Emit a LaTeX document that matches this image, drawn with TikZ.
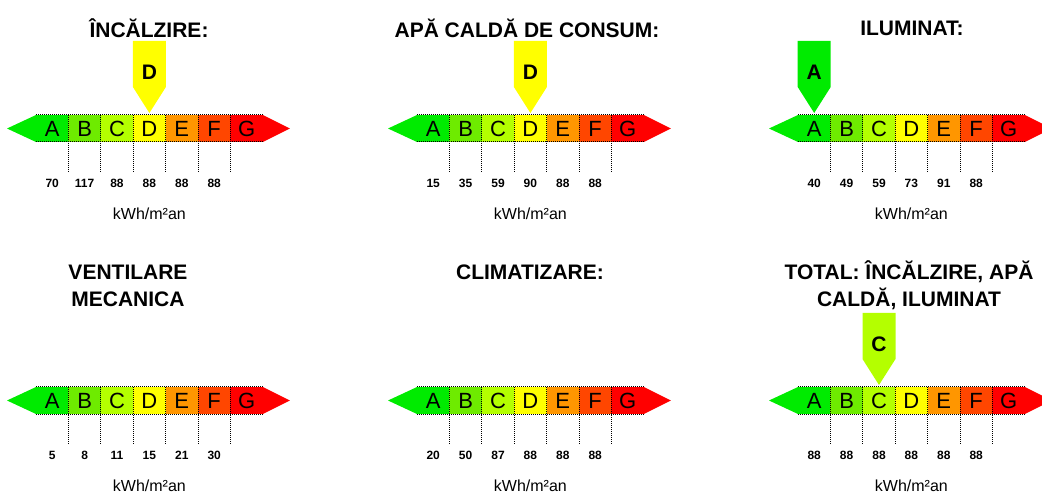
\documentclass[tikz,border=0pt]{standalone}
\usepackage{fontspec}
\setmainfont{Liberation Sans}
\usepackage{tikz}
\usetikzlibrary{positioning}
\definecolor{clsA}{RGB}{0,235,0}
\definecolor{clsB}{RGB}{110,235,0}
\definecolor{clsC}{RGB}{180,255,0}
\definecolor{clsD}{RGB}{255,255,0}
\definecolor{clsE}{RGB}{255,150,0}
\definecolor{clsF}{RGB}{255,70,0}
\definecolor{clsG}{RGB}{255,0,0}
\tikzset{
Seg/.style={
	fill=#1,
	minimum width=32.4pt,
	minimum height=27pt,
	inner sep=0pt, outer sep=0pt,
	font=\fontsize{22}{22}\selectfont
},
Dots/.style={
	draw=black,
	line width=1pt,
	dash pattern=on 1pt off 1pt
},
Title/.style={
	align=center,
	font=\bfseries\fontsize{21}{27}\selectfont
},
Value/.style={
	font=\bfseries\fontsize{12}{12}\selectfont
},
Unit/.style={
	font=\fontsize{16}{16}\selectfont
},
Mark/.style={
	font=\bfseries\fontsize{21}{21}\selectfont
}
}
% one scale: #1 name, #2 west end of A, #3 values under A..F
\newcommand{\EnergyBar}[3]{
	\node[Seg=clsA, anchor=west] (#1A) at #2 {A};
	\node[Seg=clsB, right=0pt of #1A] (#1B) {B};
	\node[Seg=clsC, right=0pt of #1B] (#1C) {C};
	\node[Seg=clsD, right=0pt of #1C] (#1D) {D};
	\node[Seg=clsE, right=0pt of #1D] (#1E) {E};
	\node[Seg=clsF, right=0pt of #1E] (#1F) {F};
	\node[Seg=clsG, right=0pt of #1F] (#1G) {G};
	\fill[clsA] (#1A.north west) -- ([xshift=-29pt]#1A.west) -- (#1A.south west) -- cycle;
	\fill[clsG] (#1G.north east) -- ([xshift=27pt]#1G.east) -- (#1G.south east) -- cycle;
	\draw[Dots] (#1A.north west) -- (#1G.north east);
	\draw[Dots] (#1A.south west) -- (#1G.south east);
	\foreach \s in {B,...,G}
		\draw[Dots] (#1\s.north west) -- ([yshift=-30pt]#1\s.south west);
	\foreach \v [count=\i] in {#3}
		\node[Value] (#1v\i) at ([xshift={(\i-1)*32.4pt}, yshift=-54.5pt]#1A.center) {\v};
	\node[Unit] (#1u) at ([yshift=-85pt]#1D.center) {kWh/m²an};
}
% arrow over the class: #1 segment, #2 colour, #3 letter
\newcommand{\Pointer}[3]{
	\fill[#2] ([yshift=2pt]#1.north) -- ++(-16.5pt,26pt) -- ++(0pt,46pt) -- ++(33pt,0pt) -- ++(0pt,-46pt) -- cycle;
	\node[Mark] (#1m) at ([yshift=43pt]#1.north) {#3};
}

\begin{document}
\begin{tikzpicture}[x=1pt, y=-1pt]
	\useasboundingbox (0,0) rectangle (1042,494);
	\clip (0,0) rectangle (1042,494);

	\node[Title] (heat) at (149,28) {ÎNCĂLZIRE:};
	\node[Title] (water) at (527,28) {APĂ CALDĂ DE CONSUM:};
	\node[Title] (light) at (912,28) {ILUMINAT:};
	\node[Title] (vent) at (128,286) {VENTILARE\\MECANICA};
	\node[Title] (cool) at (530,272) {CLIMATIZARE:};
	\node[Title] (total) at (909,285) {TOTAL: ÎNCĂLZIRE, APĂ\\CALDĂ, ILUMINAT};

	\EnergyBar{h}{(36,128.5)}{70,117,88,88,88,88}
	\EnergyBar{w}{(417,128.5)}{15,35,59,90,88,88}
	\EnergyBar{l}{(798,128.5)}{40,49,59,73,91,88}
	\EnergyBar{v}{(36,400.5)}{5,8,11,15,21,30}
	\EnergyBar{c}{(417,400.5)}{20,50,87,88,88,88}
	\EnergyBar{t}{(798,400.5)}{88,88,88,88,88,88}

	\Pointer{hD}{clsD}{D}
	\Pointer{wD}{clsD}{D}
	\Pointer{lA}{clsA}{A}
	\Pointer{tC}{clsC}{C}
\end{tikzpicture}
\end{document}
